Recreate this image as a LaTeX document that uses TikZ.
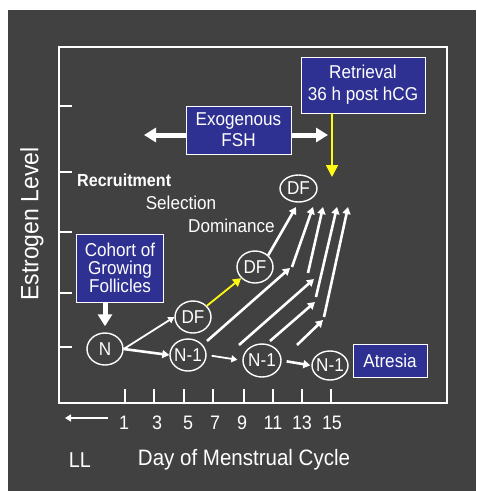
\documentclass[tikz,border=0pt]{standalone}
\usepackage{fontspec}
\setmainfont{Liberation Sans}[FakeStretch=0.92]
\usepackage{xcolor}
\usetikzlibrary{arrows.meta,shapes.geometric}
\definecolor{slidegrey}{RGB}{65,65,65}
\definecolor{boxblue}{RGB}{46,49,146}
\definecolor{hcgyellow}{RGB}{255,250,20}

\begin{document}
\begin{tikzpicture}[x=1pt, y=-1pt,
  txt/.style={text=white, inner sep=0pt, font=\fontsize{18.6}{21}\selectfont},
  bluebox/.style={txt, draw=white, line width=0.8pt, fill=boxblue, align=center},
  follicle/.style={txt, ellipse, draw=white, line width=1.4pt, inner xsep=-3pt, inner ysep=0pt,
    minimum width=36pt, minimum height=32pt},
  growline/.style={draw=white, line width=2.6pt, -{Triangle[width=8pt,length=7pt]}},
  thinarrow/.style={draw=white, line width=1.8pt, -{Triangle[width=7pt,length=6pt]}},
  fatarrow/.style={draw=white, line width=5pt, -{Triangle[width=14pt,length=12pt]}},
  hcgarrow/.style={draw=hcgyellow, line width=1.8pt, -{Triangle[width=9pt,length=8pt]}}]
\useasboundingbox (0,0) rectangle (477,491);
\fill[white] (0,0) rectangle (477,491);
\fill[slidegrey] (8,10) rectangle (476,491);

% axes
\draw[white, line width=1.8pt] (59,47) rectangle (447,403);
\foreach \y in {106,172,232,293,347}
  \draw[white, line width=1.5pt] (59,\y) -- (72,\y);
\foreach \x in {125,154,184,213,244,273,302,331}
  \draw[white, line width=1.5pt] (\x,389) -- (\x,403);
\foreach \x/\d in {124/1,157/3,188/5,215/7,242/9,273/11,302/13,332/15}
  \node[txt, font=\fontsize{19.5}{22}\selectfont] (day\d) at (\x,423) {\d};
\node[txt, font=\fontsize{21.5}{24}\selectfont] (ll) at (80,460) {LL};
\node[txt, font=\fontsize{22.3}{25}\selectfont] (daylabel) at (244,460) {Day of Menstrual Cycle};
\node[txt, font=\fontsize{25}{28}\selectfont, rotate=90] (estrogen) at (32,224) {Estrogen Level};
\coordinate (llstart) at (108,418);
\coordinate (llend) at (65,418);
\draw[thinarrow] (llstart) -- (llend);

% boxes
\node[bluebox, font=\fontsize{18.6}{22}\selectfont, minimum width=124pt, minimum height=56pt] (retrieval) at (363,85) {Retrieval\\36 h post hCG};
\node[bluebox, minimum width=105pt, minimum height=48pt] (fsh) at (238.5,130) {Exogenous\\FSH};
\node[bluebox, font=\fontsize{18.6}{18}\selectfont, minimum width=87pt, minimum height=68pt] (cohort) at (120,268) {Cohort of\\Growing\\Follicles};
\node[bluebox, minimum width=74pt, minimum height=33pt] (atresia) at (390,360.5) {Atresia};

% stages
\node[txt, font=\bfseries\fontsize{17.5}{19}\selectfont, anchor=west] (recruit) at (77,180) {Recruitment};
\node[txt] (select) at (181,203) {Selection};
\node[txt] (domin) at (231.5,226) {Dominance};

% follicles
\node[follicle] (N) at (105,349) {N};
\node[follicle] (df1) at (193,317) {DF};
\node[follicle] (nm1a) at (188,355) {N-1};
\node[follicle] (df2) at (255,267) {DF};
\node[follicle, minimum width=37pt, minimum height=27pt] (df3) at (298.5,188.5) {DF};
\node[follicle, minimum width=38pt, minimum height=33pt] (nm1b) at (262,360.5) {N-1};
\node[follicle, minimum height=29pt] (nm1c) at (330,365.5) {N-1};

% FSH and hCG
\coordinate (fshleft) at (144,135);
\coordinate (fshright) at (328,135);
\draw[fatarrow] (fsh.west |- fshleft) -- (fshleft);
\draw[fatarrow] (fsh.east |- fshright) -- (fshright);
\coordinate (hcgtip) at (332,177);
\draw[hcgarrow, -{Triangle[width=12pt,length=12pt]}] (retrieval.south -| hcgtip) -- (hcgtip);
\draw[fatarrow] (cohort.south -| N) -- ([yshift=6pt]N.north);

% cohort growth
\draw[thinarrow] (N.east) -- (df1.west);
\draw[growline] (N.east) -- (nm1a.west);
\draw[hcgarrow] (df1) -- (df2);
\draw[growline, shorten >=5pt] (df2.north east) -- (df3.south);
\draw[thinarrow, shorten <=5pt, shorten >=5pt] (nm1a.east) -- (nm1b.west);
\draw[growline, shorten <=5pt, shorten >=1pt] (nm1b.east) -- (nm1c.west);

% recruited followers
\coordinate (a0) at (207,341); \coordinate (a1) at (290,268);
\coordinate (a2) at (292,267); \coordinate (a3) at (313,207);
\coordinate (b0) at (239,345); \coordinate (b1) at (314,279);
\coordinate (b2) at (308,273); \coordinate (b3) at (323,207);
\coordinate (c0) at (270,341); \coordinate (c1) at (315,302);
\coordinate (c2) at (316,297); \coordinate (c3) at (337,207);
\coordinate (d0) at (297,345); \coordinate (d1) at (323,320);
\coordinate (d2) at (324,317); \coordinate (d3) at (348,207);
\foreach \f in {a,b,c,d} {
  \draw[growline] (\f0) -- (\f1);
  \draw[growline] (\f2) -- (\f3);
}
\end{tikzpicture}
\end{document}
